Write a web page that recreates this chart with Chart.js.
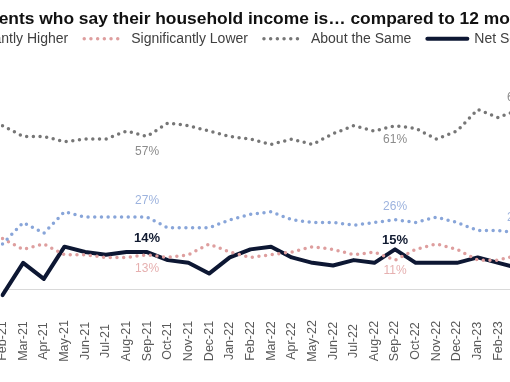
<!DOCTYPE html>
<html>
<head>
<meta charset="utf-8">
<script src="https://cdn.jsdelivr.net/npm/chart.js@4.4.1/dist/chart.umd.min.js"></script>
<style>
html,body{margin:0;padding:0;overflow:hidden;background:#fff;width:510px;height:382px;}
#wrap{position:absolute;left:-161px;top:0;width:760px;height:382px;}
</style>
</head>
<body>
<div id="wrap"><canvas id="c" width="760" height="382"></canvas></div>
<script>
const months = ["Feb-21","Mar-21","Apr-21","May-21","Jun-21","Jul-21","Aug-21","Sep-21","Oct-21","Nov-21","Dec-21","Jan-22","Feb-22","Mar-22","Apr-22","May-22","Jun-22","Jul-22","Aug-22","Sep-22","Oct-22","Nov-22","Dec-22","Jan-23","Feb-23","Mar-23"];
const significantlyHigher = [17,25,21,29,27,27,27,27,23,23,23,26,28,29,26,25,25,24,25,26,25,27,25,22,22,21];
const significantlyLower  = [19,15,17,13,13,12,12,13,12,13,17,14,12,13,14,16,15,13,14,11,15,17,15,11,11,13];
const aboutTheSame        = [61,57,57,55,56,56,59,57,62,61,59,57,56,54,56,54,58,61,59,61,60,56,59,67,64,67];
const netScore            = [-2,10,4,16,14,13,14,14,11,10,6,12,15,16,12,10,9,11,10,15,10,10,10,12,10,8];

const FONT = "'Liberation Sans', Arial, sans-serif";

const valueLabels = {
  spots: [
    {ds:2, i:7,  dy:15,  color:'#8c8c8c', size:12, weight:'normal'},
    {ds:2, i:19, dy:14,  color:'#8c8c8c', size:12, weight:'normal'},
    {ds:2, i:25, dy:-12, color:'#8c8c8c', size:12, weight:'normal'},
    {ds:0, i:7,  dy:-16, color:'#9db3de', size:12, weight:'normal'},
    {ds:0, i:19, dy:-13, color:'#9db3de', size:12, weight:'normal'},
    {ds:0, i:25, dy:-16, color:'#9db3de', size:12, weight:'normal'},
    {ds:1, i:7,  dy:14,  color:'#e6b0b0', size:12, weight:'normal'},
    {ds:1, i:19, dy:11,  color:'#e6b0b0', size:12, weight:'normal'},
    {ds:3, i:7,  dy:-14, color:'#101a30', size:13, weight:'bold'},
    {ds:3, i:19, dy:-9,  color:'#101a30', size:13, weight:'bold'}
  ]
};

const valueLabelPlugin = {
  id: 'valueLabelPlugin',
  afterDatasetsDraw(chart) {
    const ctx = chart.ctx;
    ctx.save();
    ctx.textAlign = 'center';
    ctx.textBaseline = 'middle';
    valueLabels.spots.forEach(s => {
      const meta = chart.getDatasetMeta(s.ds);
      const el = meta.data[s.i];
      if (!el) return;
      const v = chart.data.datasets[s.ds].data[s.i];
      ctx.font = s.weight + ' ' + s.size + 'px ' + FONT;
      ctx.fillStyle = s.color;
      ctx.fillText(v + '%', el.x, el.y + s.dy);
    });
    ctx.restore();
  }
};

const xLabelPlugin = {
  id: 'xLabelPlugin',
  afterDraw(chart) {
    const xs = chart.scales.x;
    const ctx = chart.ctx;
    ctx.save();
    ctx.font = '12.5px ' + FONT;
    ctx.fillStyle = '#595959';
    ctx.textAlign = 'center';
    ctx.textBaseline = 'middle';
    xs.getLabels().forEach((lab, i) => {
      const x = xs.getPixelForValue(i);
      ctx.save();
      ctx.translate(x, 341);
      ctx.rotate(-Math.PI / 2);
      ctx.fillText(lab, 0, 0);
      ctx.restore();
    });
    ctx.restore();
  }
};

const dotted = {borderWidth:3.5, borderDash:[0,6.7], borderCapStyle:'round', pointRadius:0, tension:0, fill:false};

new Chart(document.getElementById('c'), {
  type: 'line',
  data: {
    labels: months,
    datasets: [
      Object.assign({label:'Significantly Higher', data:significantlyHigher, borderColor:'#88a5d9', backgroundColor:'#88a5d9'}, dotted),
      Object.assign({label:'Significantly Lower', data:significantlyLower, borderColor:'#de9e9e', backgroundColor:'#de9e9e'}, dotted),
      Object.assign({label:'About the Same', data:aboutTheSame, borderColor:'#767676', backgroundColor:'#767676'}, dotted),
      {label:'Net Score', data:netScore, borderColor:'#0d1733', backgroundColor:'#0d1733', borderWidth:4, pointRadius:0, tension:0, fill:false, borderJoinStyle:'round', borderCapStyle:'round'}
    ]
  },
  options: {
    responsive: false,
    animation: false,
    devicePixelRatio: 1,
    layout: {padding: {left:0, right:0, top:0, bottom:65.4}},
    plugins: {
      title: {
        display: true,
        text: 'Share of respondents who say their household income is… compared to 12 months ago',
        color: '#111111',
        font: {family: FONT, size: 17.4, weight: 'bold'},
        padding: {top: 8.7, bottom: -13.84}
      },
      legend: {
        display: true,
        position: 'top',
        labels: {
          usePointStyle: true,
          pointStyleWidth: 40,
          padding: 16,
          color: '#404040',
          font: {family: FONT, size: 14},
          generateLabels(chart) {
            return chart.data.datasets.map((ds, i) => ({
              text: ds.label,
              fillStyle: 'rgba(0,0,0,0)',
              strokeStyle: ds.borderColor,
              lineWidth: ds.borderWidth,
              lineDash: ds.borderDash || [],
              lineCap: ds.borderCapStyle || 'butt',
              pointStyle: 'line',
              hidden: false,
              fontColor: '#404040',
              datasetIndex: i
            }));
          }
        }
      },
      tooltip: {enabled: false}
    },
    scales: {
      x: {type:'category', display:false, offset:false},
      y: {
        min: -10, max: 87, position: 'left', display: true,
        ticks: {display:false, stepSize:10},
        grid: {drawTicks:false, lineWidth:1, color: c => (c.tick && c.tick.value === 0) ? '#d9d9d9' : 'rgba(0,0,0,0)'},
        border: {display:false},
        afterFit: s => { s.width = 163.5; }
      },
      y2: {
        min: 0, max: 1, position: 'right', display: true,
        ticks: {display:false},
        grid: {display:false, drawTicks:false},
        border: {display:false},
        afterFit: s => { s.width = 80; }
      }
    }
  },
  plugins: [valueLabelPlugin, xLabelPlugin]
});
</script>
</body>
</html>
